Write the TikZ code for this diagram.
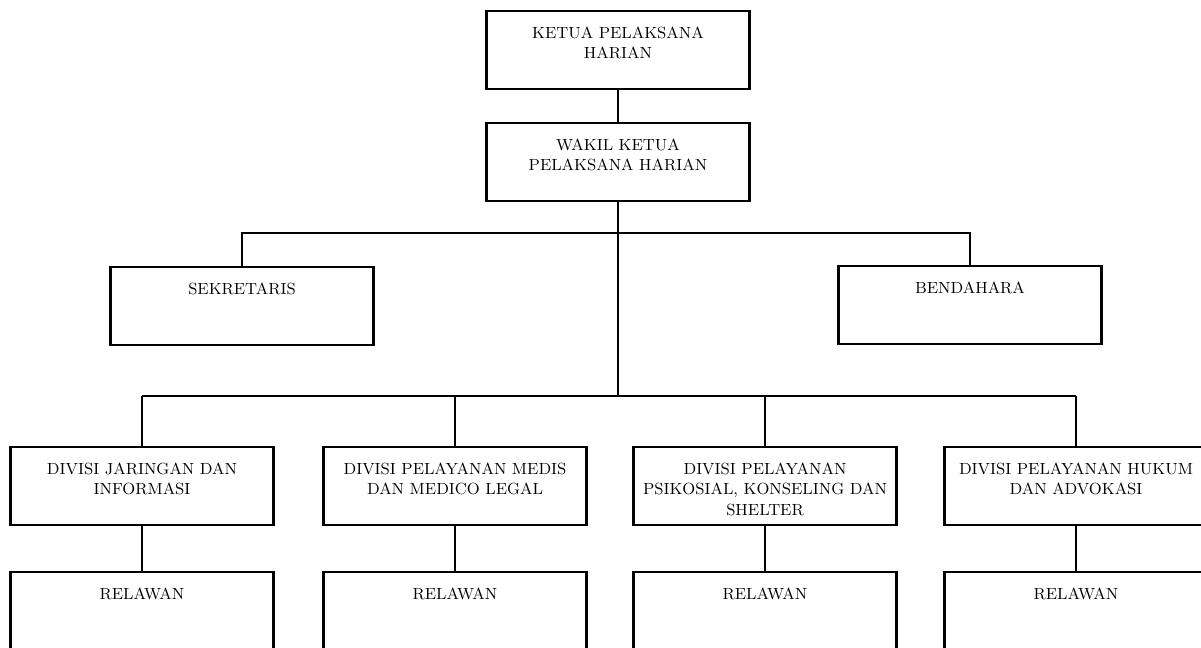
\documentclass[tikz,border=0pt]{standalone}
\usepackage{tikz}
\usetikzlibrary{positioning}
\tikzset{
	-,
	box/.style={draw, line width=1.2pt, minimum width=5.26cm, minimum height=1.56cm, inner sep=0pt},
	boxtext/.style={align=center, inner sep=0pt, font=\fontsize{9.2}{11.6}\selectfont},
}

\begin{document}
\begin{tikzpicture}[x=0.02cm, y=0.02cm, line width=1.1pt]
        \useasboundingbox (0,0) rectangle (1201,647);
        \clip (0,0) rectangle (1201,647);
        % pimpinan
        \node[box] (ketua) at (618,597) {};
        \node[boxtext, below=9pt of ketua.north] (ketuatext) {KETUA PELAKSANA\\HARIAN};
        \node[box] (wakil) at (618,485) {};
        \node[boxtext, below=9pt of wakil.north] (wakiltext) {WAKIL KETUA\\PELAKSANA HARIAN};
        \coordinate (atas) at (618,414);
        \coordinate (bawah) at (618,251);
        \node[box] (sekretaris) at (242,341) {};
        \node[boxtext, below=9pt of sekretaris.north] (sekretaristext) {SEKRETARIS};
        \node[box] (bendahara) at (970,342) {};
        \node[boxtext, below=9pt of bendahara.north] (bendaharatext) {BENDAHARA};
        \draw (ketua) -- (wakil);
        \draw (wakil) -- (bawah);
        \draw (sekretaris.north) |- (atas) -| (bendahara.north);
        % divisi
        \foreach \i/\x/\t in {1/142/{DIVISI JARINGAN DAN\\INFORMASI},
                2/455/{DIVISI PELAYANAN MEDIS\\DAN MEDICO LEGAL},
                3/765/{DIVISI PELAYANAN\\PSIKOSIAL, KONSELING DAN\\SHELTER},
                4/1076/{DIVISI PELAYANAN HUKUM\\DAN ADVOKASI}} {
            \node[box] (divisi\i) at (\x,161) {};
            \node[boxtext, below=9pt of divisi\i.north] (divisitext\i) {\t};
            \node[box] (relawan\i) at (\x,36) {};
            \node[boxtext, below=9pt of relawan\i.north] (relawantext\i) {RELAWAN};
            \draw (divisi\i.north) -- (divisi\i.north |- bawah);
            \draw (divisi\i) -- (relawan\i);
        }
        \draw (divisi1.north |- bawah) -- (divisi4.north |- bawah);
    \end{tikzpicture}
\end{document}
